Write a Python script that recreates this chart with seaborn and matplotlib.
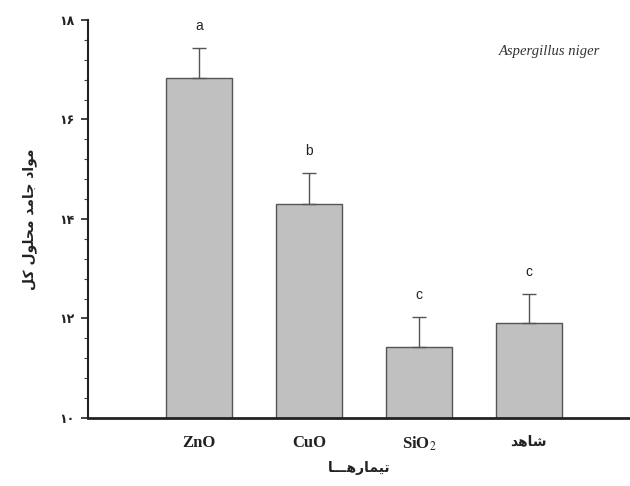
import matplotlib
matplotlib.use("Agg")
import matplotlib.pyplot as plt
from matplotlib.ticker import MultipleLocator
import seaborn as sns
import pandas as pd

# ---- data ----
categories = ["ZnO", "CuO", "SiO$_2$", "\uFEAA\uFEEB\uFE8E\uFEB7"]  # شاهد (shaped, visual order)
values = [16.83, 14.31, 11.43, 11.91]
errors = [0.61, 0.61, 0.60, 0.59]
letters = ["a", "b", "c", "c"]
yticks = [10, 12, 14, 16, 18]
ytick_labels = ["\u06F1\u06F0", "\u06F1\u06F2", "\u06F1\u06F4", "\u06F1\u06F6", "\u06F1\u06F8"]
# مواد جامد محلول کل  (shaped, visual order)
ylabel_txt = ("\uFEDE\uFB90" + " " + "\uFEDD\uFEEE\uFEE0\uFEA4\uFEE3" + " " +
              "\uFEAA\uFEE3\uFE8E\uFE9F" + " " + "\uFEA9\uFE8D\uFEEE\uFEE3")
# تیمارهـــا (shaped, visual order)
xlabel_txt = "\uFE8E\u0640\u0640\u0640\uFEEB\uFEAD\uFE8E\uFEE4\uFEF4\uFE97"
annot_txt = "Aspergillus niger"

df = pd.DataFrame({"cat": categories, "val": values})

sns.set_theme(style="ticks")
plt.rcParams["mathtext.fontset"] = "stix"

fig = plt.figure(figsize=(6.3, 4.86), dpi=100)
ax = fig.add_axes([88 / 630, 1 - 418 / 486, 1 - 88 / 630, (418 - 20) / 486])

sns.barplot(data=df, x="cat", y="val", color="#c0c0c0", saturation=1,
            edgecolor="#555555", linewidth=1.0, width=0.6, errorbar=None, ax=ax)
ax.errorbar(range(len(values)), values, yerr=[[0] * len(errors), errors],
            fmt="none", ecolor="#555555", elinewidth=1.0, capsize=5, capthick=1.0,
            zorder=1)

for i, (v, e, l) in enumerate(zip(values, errors, letters)):
    ax.text(i, v + e + 0.3, l, ha="center", va="bottom", fontsize=10,
            family="Liberation Sans", color="#222222")

ax.set_ylim(10, 18)
ax.set_xlim(-1.01, 3.92)
ax.set_yticks(yticks)
ax.set_yticklabels(ytick_labels, family="DejaVu Sans", fontweight="bold", fontsize=9)
ax.yaxis.set_minor_locator(MultipleLocator(0.4))
ax.tick_params(axis="y", which="major", length=5, width=1.2, direction="out", colors="#222222", pad=5)
ax.tick_params(axis="y", which="minor", length=3, width=0.8, direction="out", colors="#444444")
ax.tick_params(axis="x", length=0, pad=12)
for lbl in ax.get_xticklabels():
    lbl.set_fontfamily("Liberation Serif")
    lbl.set_fontweight("bold")
    lbl.set_fontsize(12)
    lbl.set_color("#222222")
ax.get_xticklabels()[3].set_fontfamily("DejaVu Sans")
ax.get_xticklabels()[3].set_fontsize(10)

sns.despine(ax=ax)
ax.spines["left"].set_linewidth(1.5)
ax.spines["bottom"].set_linewidth(2.0)
ax.spines["left"].set_color("#222222")
ax.spines["bottom"].set_color("#222222")

ax.set_xlabel(xlabel_txt, family="DejaVu Sans", fontweight="bold", fontsize=10, labelpad=6,
              color="#222222")
ax.set_ylabel(ylabel_txt, family="DejaVu Sans", fontweight="bold", fontsize=10, labelpad=16,
              color="#222222")

ax.text(0.945, 0.92, annot_txt, transform=ax.transAxes, ha="right", va="center",
        family="Liberation Serif", style="italic", fontsize=10.5, color="#333333")

fig.savefig("out.png", dpi=100)
